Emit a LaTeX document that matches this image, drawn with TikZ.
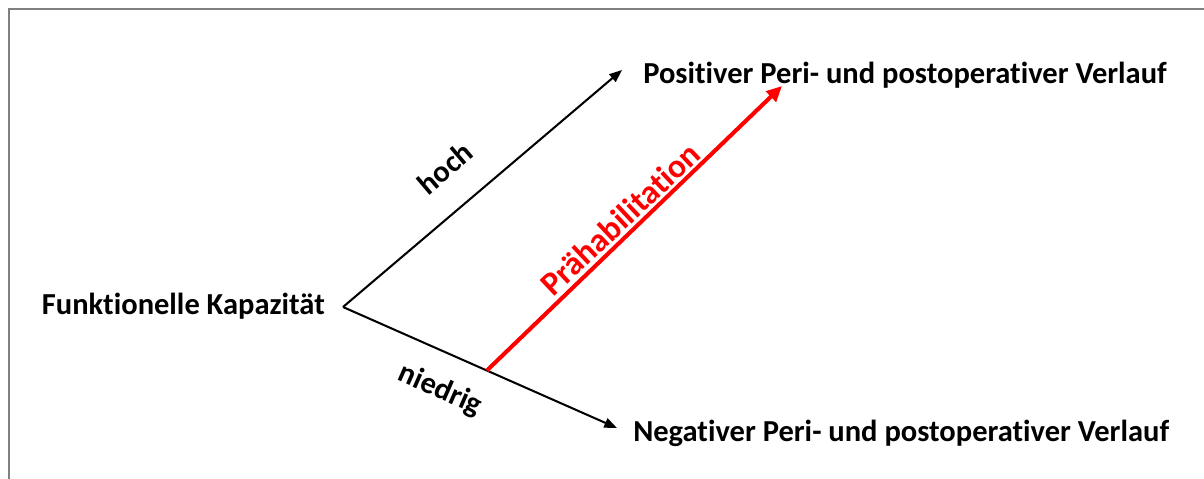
\documentclass[tikz,border=0pt]{standalone}
\usepackage{fontspec}
\setmainfont{Carlito}[Ligatures=NoCommon]
\usetikzlibrary{arrows.meta,positioning,calc}

\begin{document}
\begin{tikzpicture}[x=0.025cm, y=-0.025cm,
  lbl/.style={font=\fontsize{21.7}{24}\selectfont\bfseries, inner sep=0pt},
  branch/.style={line width=1.45pt, -{Triangle[length=9pt, width=7pt]}}]

\useasboundingbox (0,0) rectangle (1204,479);

% Frame (cut at the right and bottom)
\draw[line width=1.5pt, black!50] (9,479) -- (9,9) -- (1204,9);

% Start point and ends of the branches
\coordinate (v) at (343,307);
\coordinate (hi) at (622,70);
\coordinate (lo) at (617,428);

\node[lbl, anchor=east] (fk) at (325,306) {Funktionelle Kapazität};
\node[lbl, anchor=west] (pos) at (643,75) {Positiver Peri- und postoperativer Verlauf};
\node[lbl, anchor=west] (neg) at (633,433) {Negativer Peri- und postoperativer Verlauf};

% Branches
\draw[branch] (v) -- (hi);
\draw[branch] (v) -- (lo);
\node[lbl, rotate=40.3] (hoch) at (445,168) {hoch};
\node[lbl, rotate=-23.8] (niedrig) at (440,390) {niedrig};

% Prehabilitation shift
\coordinate (pre) at ($(v)!0.525!(lo)$);
\coordinate (top) at (782,86);
\draw[red, line width=2.9pt, -{Triangle[length=11pt, width=10pt]}] (pre) -- (top);
\node[lbl, red, font=\fontsize{23.7}{26}\selectfont\bfseries, rotate=43.3] (preh) at (620,219) {Prähabilitation};

\end{tikzpicture}
\end{document}
